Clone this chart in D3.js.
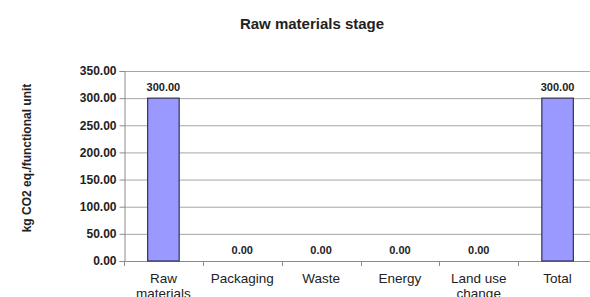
<!DOCTYPE html>
<html>
<head>
<meta charset="utf-8">
<script src="https://cdn.jsdelivr.net/npm/d3@7"></script>
<style>
  body { margin: 0; background: #fff; }
  text { font-family: "Liberation Sans", Arial, sans-serif; fill: #222; }
</style>
</head>
<body>
<div id="chart"></div>
<script>
const categories = [["Raw", "materials"], ["Packaging"], ["Waste"], ["Energy"], ["Land use", "change"], ["Total"]];
const values = [300, 0, 0, 0, 0, 300];
const yTicks = [0, 50, 100, 150, 200, 250, 300, 350];
const title = "Raw materials stage";
const yLabel = "kg CO2 eq./functional unit";

const width = 590, height = 297;
const margin = {top: 71, left: 124, bottom: 36};
const plotW = 473; // plot runs past the right edge, as in the source image

const svg = d3.select('#chart').append('svg')
  .attr('width', width)
  .attr('height', height);

const x = d3.scaleBand()
  .domain(d3.range(categories.length))
  .range([margin.left, margin.left + plotW])
  .paddingInner(0.6)
  .paddingOuter(0.3);

const y = d3.scaleLinear()
  .domain([0, 350])
  .range([261, margin.top]);

// grid
svg.append('g')
  .selectAll('line')
  .data(yTicks)
  .join('line')
  .attr('x1', margin.left)
  .attr('x2', margin.left + plotW)
  .attr('y1', d => y(d) + 0.5)
  .attr('y2', d => y(d) + 0.5)
  .attr('stroke', '#a6a6a6')
  .attr('stroke-width', 1);

// y axis
const yAxis = svg.append('g')
  .attr('transform', `translate(${margin.left + 0.5},0)`)
  .call(d3.axisLeft(y).tickValues(yTicks).tickFormat(d3.format('.2f')).tickSizeOuter(0).tickSize(5));
yAxis.select('.domain').attr('stroke', '#8c8c8c');
yAxis.selectAll('.tick line').attr('stroke', '#8c8c8c');
yAxis.selectAll('.tick text')
  .attr('x', -8)
  .style('font-size', '12px')
  .style('font-weight', 'bold')
  .attr('fill', '#222');

// x axis baseline and ticks between categories
const step = x.step();
const xBase = svg.append('g');
xBase.append('line')
  .attr('x1', margin.left)
  .attr('x2', margin.left + plotW)
  .attr('y1', y(0) + 0.5)
  .attr('y2', y(0) + 0.5)
  .attr('stroke', '#8c8c8c');
xBase.selectAll('line.t')
  .data(d3.range(categories.length + 1))
  .join('line')
  .attr('class', 't')
  .attr('x1', i => Math.round(margin.left + i * step) + 0.5)
  .attr('x2', i => Math.round(margin.left + i * step) + 0.5)
  .attr('y1', y(0))
  .attr('y2', y(0) + 5)
  .attr('stroke', '#8c8c8c');

// bars
svg.append('g')
  .selectAll('rect')
  .data(values)
  .join('rect')
  .attr('x', (d, i) => x(i))
  .attr('y', d => y(d))
  .attr('width', x.bandwidth())
  .attr('height', d => y(0) - y(d))
  .attr('fill', '#9999ff')
  .attr('stroke', '#333355')
  .attr('stroke-width', 1.2);

// value labels
svg.append('g')
  .selectAll('text')
  .data(values)
  .join('text')
  .attr('x', (d, i) => x(i) + x.bandwidth() / 2)
  .attr('y', d => y(d) - 7)
  .attr('text-anchor', 'middle')
  .style('font-size', '11px')
  .style('font-weight', 'bold')
  .text(d => d3.format('.2f')(d));

// category labels
const catG = svg.append('g')
  .selectAll('text')
  .data(categories)
  .join('text')
  .attr('x', (d, i) => x(i) + x.bandwidth() / 2)
  .attr('y', 283)
  .attr('text-anchor', 'middle')
  .style('font-size', '13.5px');
catG.selectAll('tspan')
  .data(d => d)
  .join('tspan')
  .attr('x', function() { return d3.select(this.parentNode).attr('x'); })
  .attr('dy', (d, i) => i === 0 ? 0 : 15)
  .text(d => d);

// title
svg.append('text')
  .attr('x', 312)
  .attr('y', 29)
  .attr('text-anchor', 'middle')
  .style('font-size', '15px')
  .style('font-weight', 'bold')
  .text(title);

// y label
svg.append('text')
  .attr('transform', `translate(31,158) rotate(-90)`)
  .attr('text-anchor', 'middle')
  .style('font-size', '12px')
  .style('font-weight', 'bold')
  .text(yLabel);
</script>
</body>
</html>
